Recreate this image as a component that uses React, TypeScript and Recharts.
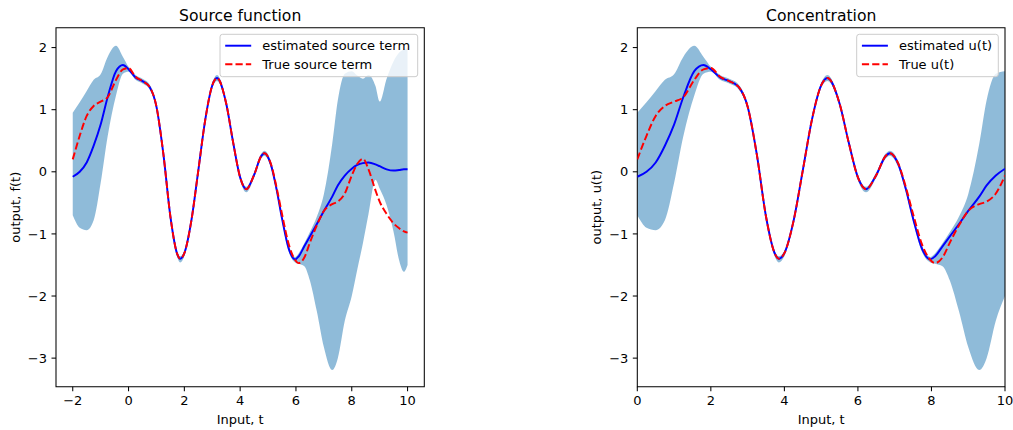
import React from 'react';
import { ComposedChart, Area, Line, XAxis, YAxis, ReferenceArea } from 'recharts';

// sample positions along t (left panel); right panel is the same curves shifted by +2
const T = [
  -2, -1.75, -1.5, -1.25, -1, -0.75, -0.45, -0.2, 0, 0.25, 0.5, 0.75, 1, 1.25, 1.5, 1.75, 1.85, 2,
  2.25, 2.5, 2.75, 3, 3.17, 3.5, 3.75, 4, 4.22, 4.5, 4.75, 4.87, 5.1, 5.3, 5.5, 5.75, 5.97, 6.1,
  6.3, 6.5, 6.75, 7, 7.3, 7.5, 7.75, 8, 8.2, 8.4, 8.6, 8.85, 9, 9.25, 9.5, 9.7, 9.87, 10,
];

const estimated = [
  -0.08, 0.0, 0.15, 0.42, 0.76, 1.2, 1.62, 1.72, 1.65, 1.52, 1.46, 1.37, 1.05, 0.28, -0.72, -1.33, -1.4, -1.31,
  -0.79, 0.02, 0.84, 1.39, 1.51, 1.1, 0.47, -0.09, -0.28, -0.05, 0.25, 0.3, 0.12, -0.27, -0.75, -1.25, -1.41, -1.36,
  -1.2, -1.04, -0.84, -0.63, -0.4, -0.22, -0.06, 0.05, 0.11, 0.14, 0.15, 0.12, 0.09, 0.04, 0.02, 0.03, 0.04, 0.04,
];

const truth = [
  0.2, 0.58, 0.9, 1.06, 1.13, 1.2, 1.48, 1.65, 1.67, 1.53, 1.46, 1.37, 1.05, 0.28, -0.72, -1.33, -1.4, -1.31,
  -0.79, 0.02, 0.84, 1.39, 1.51, 1.1, 0.47, -0.09, -0.28, -0.05, 0.25, 0.3, 0.13, -0.24, -0.68, -1.18, -1.42, -1.47,
  -1.38, -1.14, -0.86, -0.63, -0.52, -0.48, -0.35, -0.06, 0.13, 0.21, 0.04, -0.3, -0.48, -0.68, -0.83, -0.91, -0.96, -0.98,
];

const upper = [
  0.95, 1.12, 1.3, 1.48, 1.57, 1.85, 2.03, 1.85, 1.69, 1.56, 1.5, 1.41, 1.09, 0.32, -0.68, -1.29, -1.36, -1.27,
  -0.75, 0.06, 0.88, 1.43, 1.56, 1.14, 0.51, -0.05, -0.24, -0.01, 0.29, 0.34, 0.17, -0.22, -0.7, -1.2, -1.37, -1.31,
  -1.15, -0.97, -0.72, -0.36, 0.45, 1.15, 1.58, 1.62, 1.55, 1.5, 1.56, 1.38, 1.13, 1.5, 1.78, 1.92, 1.97, 1.99,
];

const lower = [
  -0.7, -0.9, -0.94, -0.78, -0.18, 0.57, 1.23, 1.58, 1.61, 1.48, 1.42, 1.33, 1.01, 0.24, -0.76, -1.38, -1.46, -1.36,
  -0.83, -0.02, 0.8, 1.35, 1.46, 1.06, 0.43, -0.14, -0.33, -0.09, 0.21, 0.26, 0.07, -0.32, -0.8, -1.3, -1.46, -1.48,
  -1.52, -1.75, -2.25, -2.82, -3.19, -3.0, -2.4, -2.0, -1.57, -1.15, -0.68, -0.13, -0.27, -0.54, -0.97, -1.43, -1.61, -1.5,
];

const xTicksLeft = [-2, 0, 2, 4, 6, 8, 10];
const xTicksRight = [0, 2, 4, 6, 8, 10];
const yTicks = [-3, -2, -1, 0, 1, 2];
const Y_DOMAIN: [number, number] = [-3.46, 2.32];

const FONT = "'DejaVu Sans', sans-serif";
const fmt = (v: number) => String(v).replace('-', '\u2212');

type PanelProps = {
  shift: number;
  xDomain: [number, number];
  xTicks: number[];
  left: number;
  width: number;
  yAxisWidth: number;
  marginRight: number;
};

function Panel({ shift, xDomain, xTicks, left, width, yAxisWidth, marginRight }: PanelProps) {
  const inRange = (t: number) => t + shift >= xDomain[0] - 1e-9 && t + shift <= xDomain[1] + 1e-9;
  const idx = T.map((_, i) => i).filter((i) => inRange(T[i]));
  const band = idx.map((i) => ({ t: T[i] + shift, range: [lower[i], upper[i]] }));
  const est = idx.map((i) => ({ t: T[i] + shift, v: estimated[i] }));
  const tru = idx.map((i) => ({ t: T[i] + shift, v: truth[i] }));
  const tickStyle = { fill: '#000', fontSize: 13, fontFamily: FONT };

  return (
    <div style={{ position: 'absolute', left, top: 0 }}>
      <ComposedChart width={width} height={430} margin={{ top: 27.7, right: marginRight, bottom: 13.3, left: 0 }}>
        <XAxis
          type="number"
          dataKey="t"
          domain={xDomain}
          ticks={xTicks}
          interval={0}
          allowDataOverflow
          height={30}
          tickSize={4.5}
          tickMargin={4.5}
          tickLine={{ stroke: '#000', strokeWidth: 1.04 }}
          axisLine={false}
          tick={tickStyle}
          tickFormatter={fmt}
        />
        <YAxis
          type="number"
          domain={Y_DOMAIN}
          ticks={yTicks}
          interval={0}
          allowDataOverflow
          width={yAxisWidth}
          tickSize={4.5}
          tickMargin={4.5}
          tickLine={{ stroke: '#000', strokeWidth: 1.04 }}
          axisLine={false}
          tick={tickStyle}
          tickFormatter={fmt}
        />
        <Area
          data={band}
          dataKey="range"
          type="monotone"
          stroke="none"
          fill="#1f77b4"
          fillOpacity={0.5}
          isAnimationActive={false}
          activeDot={false}
        />
        <Line data={est} dataKey="v" type="monotone" stroke="#0000ff" strokeWidth={1.95} dot={false} isAnimationActive={false} />
        <Line
          data={tru}
          dataKey="v"
          type="monotone"
          stroke="#ff0000"
          strokeWidth={1.95}
          strokeDasharray="7.2 3.1"
          dot={false}
          isAnimationActive={false}
        />
        <ReferenceArea
          x1={xDomain[0]}
          x2={xDomain[1]}
          y1={Y_DOMAIN[0]}
          y2={Y_DOMAIN[1]}
          fill="none"
          stroke="#000"
          strokeWidth={1.04}
          ifOverflow="visible"
        />
      </ComposedChart>
    </div>
  );
}

function LegendBox({ x, width, labels }: { x: number; width: number; labels: [string, string] }) {
  const y = 34.3;
  return (
    <g>
      <rect x={x} y={y} width={width} height={42.4} rx={2.6} fill="#fff" fillOpacity={0.8} stroke="#cccccc" strokeWidth={1} />
      <line x1={x + 5.2} x2={x + 31.2} y1={y + 11.4} y2={y + 11.4} stroke="#0000ff" strokeWidth={1.95} />
      <line x1={x + 5.2} x2={x + 31.2} y1={y + 30} y2={y + 30} stroke="#ff0000" strokeWidth={1.95} strokeDasharray="7.2 3.1" />
      <text x={x + 42.3} y={y + 16} fontSize={13} fontFamily={FONT} fill="#000">{labels[0]}</text>
      <text x={x + 42.3} y={y + 34.6} fontSize={13} fontFamily={FONT} fill="#000">{labels[1]}</text>
    </g>
  );
}

export default function App() {
  return (
    <div style={{ position: 'absolute', left: 0, top: 0, width: 1013, height: 430, background: '#fff', overflow: 'hidden' }}>
      <Panel shift={0} xDomain={[-2.6, 10.6]} xTicks={xTicksLeft} left={0} width={440} yAxisWidth={56} marginRight={15.7} />
      <Panel shift={2} xDomain={[0, 10]} xTicks={xTicksRight} left={580} width={433} yAxisWidth={57.3} marginRight={8} />
      <svg width={1013} height={430} style={{ position: 'absolute', left: 0, top: 0, pointerEvents: 'none' }}>
        <text x={240.2} y={20.5} textAnchor="middle" fontSize={15.6} fontFamily={FONT} fill="#000">Source function</text>
        <text x={821.2} y={20.5} textAnchor="middle" fontSize={15.6} fontFamily={FONT} fill="#000">Concentration</text>
        <text x={240.2} y={423.8} textAnchor="middle" fontSize={13} fontFamily={FONT} fill="#000">Input, t</text>
        <text x={821.2} y={423.8} textAnchor="middle" fontSize={13} fontFamily={FONT} fill="#000">Input, t</text>
        <text transform="translate(19.7,207.2) rotate(-90)" textAnchor="middle" fontSize={13} fontFamily={FONT} fill="#000">output, f(t)</text>
        <text transform="translate(600.5,207.2) rotate(-90)" textAnchor="middle" fontSize={13} fontFamily={FONT} fill="#000">output, u(t)</text>
        <LegendBox x={220} width={197.7} labels={['estimated source term', 'True source term']} />
        <LegendBox x={856.7} width={141.6} labels={['estimated u(t)', 'True u(t)']} />
      </svg>
    </div>
  );
}
